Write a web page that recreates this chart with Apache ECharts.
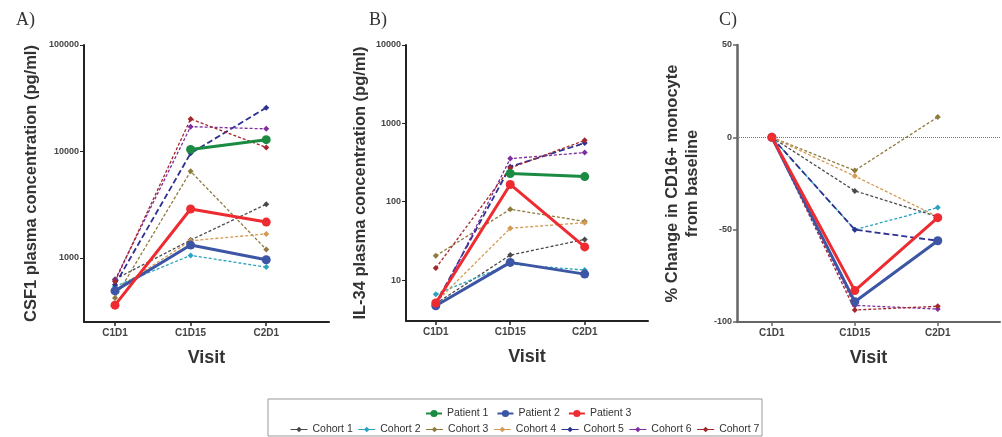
<!DOCTYPE html>
<html>
<head>
<meta charset="utf-8">
<script src="https://cdn.jsdelivr.net/npm/echarts@6/dist/echarts.min.js"></script>
<style>
  html, body { margin: 0; padding: 0; background: #fff; }
  #main { width: 1002px; height: 437px; }
</style>
</head>
<body>
<div id="main"></div>
<script>
const visits = ["C1D1", "C1D15", "C2D1"];
const patientNames = ["Patient 1", "Patient 2", "Patient 3"];
const cohortNames = ["Cohort 1", "Cohort 2", "Cohort 3", "Cohort 4", "Cohort 5", "Cohort 6", "Cohort 7"];

// A) CSF1 (pg/ml)
const csf1Patients = [
  [null, 10450, 12900],
  [490, 1320, 960],
  [360, 2880, 2170],
];
const csf1Cohorts = [
  [630, 1470, 3190],
  [540, 1055, 820],
  [420, 6500, 1200],
  [500, 1450, 1680],
  [560, 9600, 25800],
  [620, 17100, 16300],
  [600, 20200, 10900],
];

// B) IL-34 (pg/ml)
const il34Patients = [
  [null, 229, 209],
  [4.7, 16.8, 11.9],
  [5.1, 166, 26.5],
];
const il34Cohorts = [
  [5, 20.8, 33],
  [6.6, 16, 13.4],
  [20.4, 80, 56],
  [5.2, 45.8, 54],
  [5, 280, 560],
  [4.5, 355, 423],
  [14.2, 270, 607],
];

// C) % change CD16+ monocytes
const cd16Patients = [
  [null, null, null],
  [0, -89, -56],
  [0, -83, -43.5],
];
const cd16Cohorts = [
  [0, -29, -43],
  [0, -50, -38],
  [0, -18, 11],
  [0, -21, -43],
  [0, -50, -56],
  [0, -91, -93],
  [0, -93.5, -91.5],
];

const patientColors = ["#1b8a42", "#3d55a5", "#ed2b30"];
const cohortColors = ["#4a4a4a", "#2ba3bd", "#8d7a3c", "#d49a52", "#2e3192", "#7d2e9f", "#a3262b"];

const FONT = "Liberation Sans, Arial, sans-serif";

function toPairs(values) {
  let out = [];
  values.forEach((v, i) => {
    if (v != null) out.push([i, v]);
  });
  return out;
}

function cohortSeries(gridIdx, values) {
  return values.map((vals, k) => ({
    name: cohortNames[k],
    type: "line",
    xAxisIndex: gridIdx,
    yAxisIndex: gridIdx,
    data: toPairs(vals),
    symbol: "diamond",
    symbolSize: 6,
    itemStyle: { color: cohortColors[k] },
    lineStyle: {
      color: cohortColors[k],
      width: k == 4 ? 1.8 : 1.3,
      type: k == 4 ? [6, 3] : [3, 2],
    },
    z: 2,
  }));
}

function patientSeries(gridIdx, values) {
  return values.map((vals, k) => ({
    name: patientNames[k],
    type: "line",
    xAxisIndex: gridIdx,
    yAxisIndex: gridIdx,
    data: toPairs(vals),
    symbol: "circle",
    symbolSize: 9,
    itemStyle: { color: patientColors[k] },
    lineStyle: { color: patientColors[k], width: 3 },
    z: 3,
  }));
}

const grids = [
  { left: 84, right: 673, top: 45, bottom: 115 },
  { left: 406, right: 354, top: 45, bottom: 116 },
  { left: 737, right: 2, top: 45, bottom: 115 },
];
const xRanges = [
  [-0.41, 2.83],
  [-0.4, 2.85],
  [-0.42, 2.75],
];
const axisColors = ["#222", "#222", "#666"];

const xAxes = grids.map((g, i) => ({
  type: "value",
  gridIndex: i,
  min: xRanges[i][0],
  max: xRanges[i][1],
  splitLine: { show: false },
  axisLine: { show: true, onZero: false, lineStyle: { color: axisColors[i], width: 2 } },
  axisTick: { show: true, customValues: [0, 1, 2], length: 4, lineStyle: { color: axisColors[i], width: 1.5 } },
  axisLabel: {
    customValues: [0, 1, 2],
    formatter: (v) => visits[Math.round(v)] || "",
    fontFamily: FONT,
    fontSize: 10,
    fontWeight: "bold",
    color: "#444",
    margin: 6,
  },
  name: "Visit",
  nameLocation: "middle",
  nameGap: 27,
  nameTextStyle: { fontFamily: FONT, fontSize: 18, fontWeight: "bold", color: "#333" },
}));

const yLabelStyle = {
  fontFamily: FONT,
  fontSize: 9,
  fontWeight: "bold",
  color: "#444",
  margin: 5,
  formatter: (v) => String(v),
};
const yNameStyle = { fontFamily: FONT, fontSize: 16.5, fontWeight: "bold", color: "#333", lineHeight: 20 };

const yAxes = [
  {
    type: "log",
    logBase: 10,
    gridIndex: 0,
    min: 250,
    max: 100000,
    splitLine: { show: false },
    axisLine: { show: true, onZero: false, lineStyle: { color: axisColors[0], width: 2 } },
    axisTick: { show: true, customValues: [1000, 10000, 100000], length: 4, lineStyle: { color: axisColors[0] } },
    axisLabel: { ...yLabelStyle, customValues: [1000, 10000, 100000] },
    name: "CSF1 plasma concentration (pg/ml)",
    nameLocation: "middle",
    nameGap: 43,
    nameTextStyle: yNameStyle,
  },
  {
    type: "log",
    logBase: 10,
    gridIndex: 1,
    min: 3,
    max: 10000,
    splitLine: { show: false },
    axisLine: { show: true, onZero: false, lineStyle: { color: axisColors[1], width: 2 } },
    axisTick: { show: true, customValues: [10, 100, 1000, 10000], length: 4, lineStyle: { color: axisColors[1] } },
    axisLabel: { ...yLabelStyle, customValues: [10, 100, 1000, 10000] },
    name: "IL-34 plasma concentration (pg/ml)",
    nameLocation: "middle",
    nameGap: 36,
    nameTextStyle: yNameStyle,
  },
  {
    type: "value",
    gridIndex: 2,
    min: -100,
    max: 50,
    interval: 50,
    splitLine: { show: false },
    axisLine: { show: true, onZero: false, lineStyle: { color: axisColors[2], width: 2.5 } },
    axisTick: { show: true, length: 4, lineStyle: { color: axisColors[2], width: 1.5 } },
    axisLabel: yLabelStyle,
    name: "% Change in CD16+ monocyte\nfrom baseline",
    nameLocation: "middle",
    nameGap: 35,
    nameTextStyle: yNameStyle,
  },
];

let series = [
  ...cohortSeries(0, csf1Cohorts),
  ...patientSeries(0, csf1Patients),
  ...cohortSeries(1, il34Cohorts),
  ...patientSeries(1, il34Patients),
  ...cohortSeries(2, cd16Cohorts),
  ...patientSeries(2, cd16Patients),
];

// dotted zero line in panel C
series.push({
  type: "line",
  xAxisIndex: 2,
  yAxisIndex: 2,
  data: [],
  markLine: {
    silent: true,
    symbol: "none",
    label: { show: false },
    lineStyle: { color: "#777", type: "dotted", width: 1 },
    data: [{ yAxis: 0 }],
  },
  z: 1,
});

const legendText = { fontFamily: FONT, fontSize: 10.5, color: "#333" };

const option = {
  animation: false,
  backgroundColor: "#fff",
  title: [
    { text: "A)", left: 11, top: 6 },
    { text: "B)", left: 364, top: 6 },
    { text: "C)", left: 714, top: 6 },
  ].map((t) => ({
    ...t,
    textStyle: { fontFamily: "Liberation Serif, Times New Roman, serif", fontSize: 18, fontWeight: "normal", color: "#333" },
  })),
  grid: grids,
  xAxis: xAxes,
  yAxis: yAxes,
  legend: [
    {
      data: patientNames,
      left: 420,
      top: 403,
      itemWidth: 16,
      itemHeight: 9,
      itemGap: 8,
      textStyle: legendText,
      lineStyle: { type: "solid" },
    },
    {
      data: cohortNames,
      left: 285,
      top: 419,
      itemWidth: 17,
      itemHeight: 7,
      itemGap: 5,
      textStyle: legendText,
      lineStyle: { type: "solid", width: 1 },
    },
  ],
  graphic: [
    {
      type: "rect",
      shape: { x: 268, y: 399, width: 494, height: 37 },
      style: { fill: "none", stroke: "#999", lineWidth: 1 },
      silent: true,
    },
  ],
  series: series,
};

let myChart = echarts.init(document.getElementById("main"));
option && myChart.setOption(option);
</script>
</body>
</html>
